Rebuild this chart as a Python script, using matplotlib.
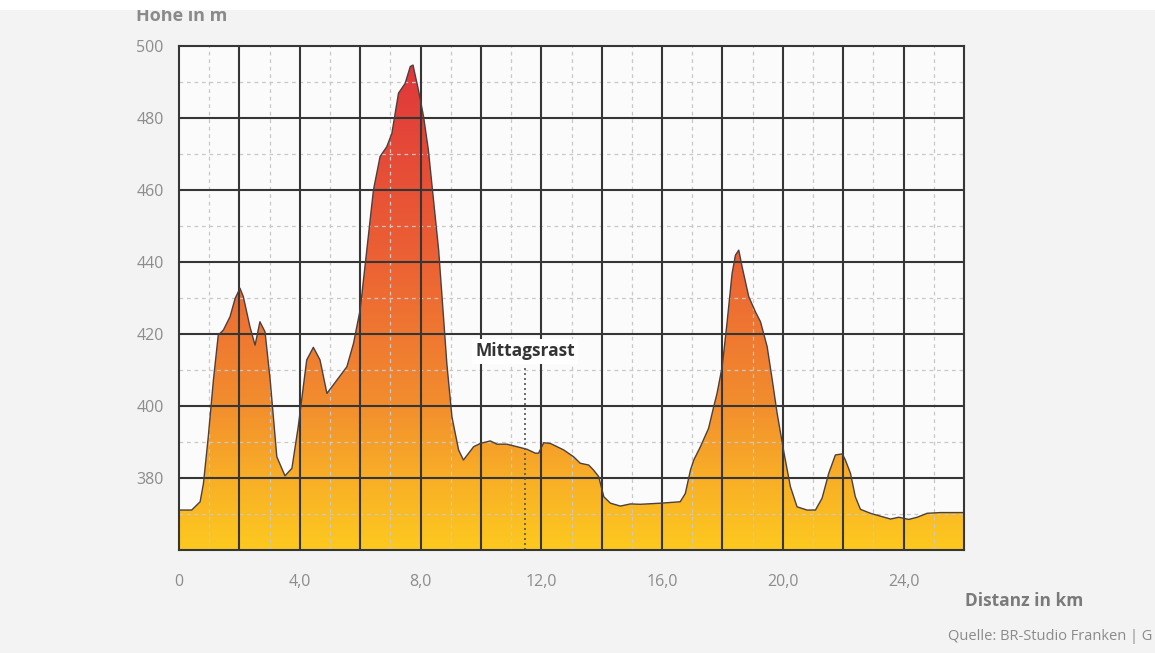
import numpy as np
import matplotlib
matplotlib.use("Agg")
import matplotlib.pyplot as plt
from matplotlib.colors import LinearSegmentedColormap
from matplotlib.patches import Polygon, Rectangle

plt.rcParams['font.family'] = ['Open Sans', 'DejaVu Sans']

# Distance (km) and elevation (m) of the profile
dist = [0, 0.42, 0.7, 0.81, 0.97, 1.14, 1.3, 1.47, 1.69, 1.86, 2.02, 2.13, 2.35, 2.52, 2.68,
        2.85, 3.02, 3.24, 3.51, 3.74, 3.95, 4.23, 4.45, 4.67, 4.9, 5.23, 5.56, 5.78, 6.0, 6.22,
        6.44, 6.66, 6.88, 7.05, 7.27, 7.49, 7.66, 7.75, 7.93, 8.1, 8.26, 8.43, 8.6, 8.76, 8.87,
        9.04, 9.26, 9.42, 9.76, 9.98, 10.31, 10.53, 10.86, 11.19, 11.52, 11.8, 11.91, 12.08, 12.3,
        12.74, 13.07, 13.29, 13.57, 13.73, 13.9, 14.07, 14.29, 14.62, 14.95, 15.28, 15.94, 16.6,
        16.77, 16.94, 17.05, 17.27, 17.54, 17.71, 17.82, 17.99, 18.15, 18.32, 18.43, 18.54, 18.65,
        18.87, 19.09, 19.26, 19.48, 19.65, 19.81, 20.04, 20.25, 20.47, 20.8, 21.08, 21.3, 21.52,
        21.74, 21.97, 22.07, 22.24, 22.4, 22.57, 22.9, 23.23, 23.57, 23.84, 24.17, 24.45, 24.78,
        25.22, 26.0]
elev = [371.1, 371.1, 373.4, 378.5, 391.5, 407.2, 419.7, 421.1, 424.8, 429.9, 432.7, 430.4, 422.0,
        416.9, 423.4, 420.6, 407.2, 385.9, 380.6, 382.7, 394.3, 412.8, 416.3, 412.8, 403.5, 407.2,
        410.9, 417.4, 426.7, 443.3, 460.0, 469.3, 472.0, 475.7, 486.9, 489.6, 494.3, 494.7, 487.8,
        480.4, 471.1, 457.2, 443.3, 424.8, 411.9, 397.0, 387.8, 385.0, 388.7, 389.6, 390.3, 389.4,
        389.4, 388.7, 388.0, 386.9, 386.9, 389.8, 389.6, 387.8, 385.9, 384.1, 383.6, 382.2, 380.4,
        374.8, 373.0, 372.2, 372.8, 372.7, 373.0, 373.4, 375.7, 382.2, 385.0, 388.7, 393.8, 399.8,
        403.5, 410.9, 423.0, 436.9, 441.9, 443.3, 438.7, 430.4, 426.2, 423.4, 416.5, 407.2, 398.0,
        386.9, 377.6, 372.0, 371.1, 371.1, 374.4, 381.3, 386.4, 386.7, 385.0, 381.3, 374.8, 371.3,
        370.2, 369.4, 368.6, 369.1, 368.5, 369.1, 370.2, 370.4, 370.4]

xticks = [0, 4, 8, 12, 16, 20, 24]
xticklabels = ["0", "4,0", "8,0", "12,0", "16,0", "20,0", "24,0"]
yticks = [380, 400, 420, 440, 460, 480, 500]
yticklabels = ["380", "400", "420", "440", "460", "480", "500"]
rest_km = 11.46
rest_label = "Mittagsrast"

W, H = 1155, 653
fig = plt.figure(figsize=(W / 100, H / 100), dpi=100, facecolor='#f3f3f3')
ax = fig.add_axes([179 / W, 1 - 550 / H, (964 - 179) / W, (550 - 46) / H])
ax.set_facecolor('#fbfbfb')
ax.set_xlim(0, 26)
ax.set_ylim(360, 500)

# gradient fill
cmap = LinearSegmentedColormap.from_list(
    'elev', [(0.0, '#fdc91f'), (0.15, '#f8ad27'), (0.29, '#f28d2e'),
             (0.57, '#ec6234'), (0.96, '#e0373a'), (1.0, '#df3539')])
grad = np.linspace(0, 1, 256).reshape(-1, 1)
im = ax.imshow(grad, extent=[0, 26, 360, 500], origin='lower', aspect='auto',
               cmap=cmap, zorder=1, interpolation='bilinear')
verts = list(zip(dist, elev)) + [(dist[-1], 360), (dist[0], 360)]
poly = Polygon(verts, closed=True, facecolor='none', edgecolor='none', transform=ax.transData)
ax.add_patch(poly)
im.set_clip_path(poly)
ax.plot(dist, elev, color='#4a4040', lw=1.0, zorder=4)

# grid
for xv in np.arange(1, 26, 2):
    ax.axvline(xv, color='#c8c8c8', lw=0.9, ls=(0, (3, 3)), zorder=2)
for yv in np.arange(370, 500, 20):
    ax.axhline(yv, color='#c8c8c8', lw=0.9, ls=(0, (3, 3)), zorder=2)
for xv in np.arange(2, 26, 2):
    ax.axvline(xv, color='#363636', lw=1.5, zorder=3)
for yv in np.arange(380, 500, 20):
    ax.axhline(yv, color='#363636', lw=1.5, zorder=3)
for s in ax.spines.values():
    s.set_color('#363636')
    s.set_linewidth(1.5)
    s.set_zorder(5)

# rest marker
ax.plot([rest_km, rest_km], [360, 410.5], color='#555555', lw=1.2, ls=(0, (1.2, 1.8)), zorder=5)
ax.text(rest_km, 415.2, rest_label, ha='center', va='center', fontsize=12.5, fontweight='bold',
        color='#333333', zorder=6,
        bbox=dict(boxstyle='square,pad=0.2', facecolor='white', edgecolor='none'))

ax.set_xticks(xticks)
ax.set_xticklabels(xticklabels)
ax.set_yticks(yticks)
ax.set_yticklabels(yticklabels)
ax.tick_params(length=0, labelsize=11.5, labelcolor='#8c8c8c')
ax.tick_params(axis='x', pad=17)
ax.tick_params(axis='y', pad=11)

fig.text(136 / W, 1 - 16 / H, "Höhe in m", fontsize=13, fontweight='bold', color='#8a8a8a',
         ha='left', va='center')
fig.text(965 / W, 1 - 601 / H, "Distanz in km", fontsize=12.5, fontweight='bold', color='#7a7a7a',
         ha='left', va='center')
fig.text(948 / W, 1 - 637 / H, "Quelle: BR-Studio Franken | G", fontsize=10.5, color='#8a8a8a',
         ha='left', va='center')
fig.patches.append(Rectangle((0, 1 - 10 / H), 1, 10 / H, transform=fig.transFigure,
                             facecolor='white', edgecolor='none', zorder=10))

fig.savefig('out.png', dpi=100, facecolor=fig.get_facecolor())
